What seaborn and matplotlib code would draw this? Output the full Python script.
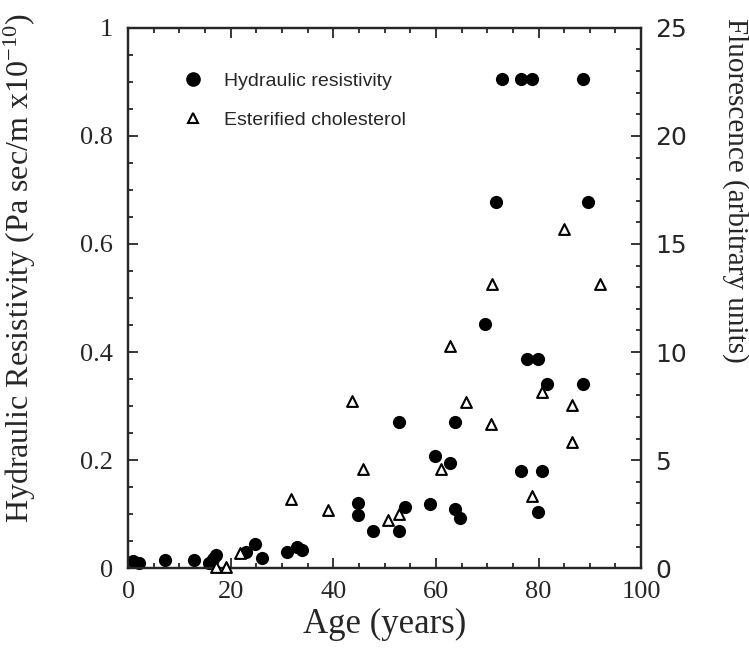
import matplotlib
matplotlib.use("Agg")
import matplotlib.pyplot as plt
from matplotlib.lines import Line2D
from matplotlib.ticker import MultipleLocator
import pandas as pd
import seaborn as sns

# hydraulic resistivity (filled circles, left axis)
res_age = [1.0, 2.2, 7.1, 12.9, 15.8, 16.5, 17.1, 23.0, 24.8, 26.1, 30.9, 32.9, 33.9,
           44.9, 44.9, 47.8, 52.8, 52.8, 54.0, 58.9, 59.8, 62.8, 63.8, 63.8, 64.7,
           69.6, 71.7, 72.8, 76.5, 78.7, 88.6, 76.6, 77.8, 79.9, 79.9, 80.7, 81.6,
           88.6, 89.7]
res_val = [0.013, 0.009, 0.016, 0.016, 0.009, 0.017, 0.025, 0.030, 0.044, 0.018, 0.030,
           0.040, 0.033, 0.120, 0.099, 0.069, 0.271, 0.069, 0.114, 0.119, 0.207, 0.194,
           0.271, 0.109, 0.092, 0.452, 0.678, 0.905, 0.905, 0.905, 0.905, 0.180, 0.387,
           0.387, 0.104, 0.180, 0.341, 0.341, 0.678]

# esterified cholesterol (open triangles, right axis)
chol_age = [17.1, 19.0, 21.8, 31.8, 38.9, 43.7, 45.7, 50.7, 52.8, 60.9, 62.8, 65.8,
            70.8, 70.9, 78.7, 80.7, 84.9, 86.5, 86.5, 91.9]
chol_val = [0.06, 0.06, 0.68, 3.18, 2.69, 7.75, 4.57, 2.25, 2.53, 4.57, 10.28, 7.67,
            6.65, 13.13, 3.33, 8.15, 15.7, 7.55, 5.82, 13.13]

x_ticks = [0, 20, 40, 60, 80, 100]
left_ticks = [0, 0.2, 0.4, 0.6, 0.8, 1.0]
left_labels = ["0", "0.2", "0.4", "0.6", "0.8", "1"]
right_ticks = [0, 5, 10, 15, 20, 25]

df_res = pd.DataFrame({"age": res_age, "val": res_val})
df_chol = pd.DataFrame({"age": chol_age, "val": chol_val})

sns.set_style("ticks")
plt.rcParams["font.family"] = ["Liberation Serif", "DejaVu Serif"]
plt.rcParams["mathtext.fontset"] = "custom"
plt.rcParams["mathtext.rm"] = "Liberation Serif"
plt.rcParams["mathtext.it"] = "Liberation Serif:italic"

fig = plt.figure(figsize=(7.49, 6.63), dpi=100)
ax = fig.add_axes([0.171, 0.143, 0.685, 0.815])
ax2 = ax.twinx()

sns.scatterplot(data=df_res, x="age", y="val", ax=ax, color="black", marker="o",
                s=90, edgecolor="black", linewidth=0, clip_on=False, zorder=3)
sns.scatterplot(data=df_chol, x="age", y="val", ax=ax2, marker="^", s=60,
                facecolor="white", edgecolor="black", linewidth=1.5, clip_on=False,
                zorder=3)

ax.set_xlim(0, 100)
ax.set_ylim(0, 1)
ax2.set_ylim(0, 25)

ax.set_xticks(x_ticks)
ax.set_yticks(left_ticks)
ax.set_yticklabels(left_labels)
ax2.set_yticks(right_ticks)
ax.xaxis.set_minor_locator(MultipleLocator(5))
ax.yaxis.set_minor_locator(MultipleLocator(0.05))
ax2.yaxis.set_minor_locator(MultipleLocator(1))

ax.tick_params(axis="both", which="major", direction="in", length=7, width=1.3,
               labelsize=19)
ax.tick_params(axis="both", which="minor", direction="in", length=3.6, width=1.3)
ax.tick_params(axis="x", which="both", top=True, pad=9)
ax.tick_params(axis="y", which="major", pad=11)
ax2.tick_params(axis="y", which="major", direction="in", length=7, width=1.3,
                labelsize=18, pad=10)
ax2.tick_params(axis="y", which="minor", direction="in", length=3.6, width=1.3)
for lab in ax2.get_yticklabels():
    lab.set_fontfamily(["DejaVu Sans"])

for a in (ax, ax2):
    for sp in a.spines.values():
        sp.set_linewidth(1.6)
        sp.set_visible(True)

ax.set_xlabel("Age (years)", fontsize=25)
ax.set_ylabel(r"Hydraulic Resistivity (Pa sec/m x10$^{-10}$)", fontsize=23)
ax.yaxis.set_label_coords(-0.175, 0.555)
ax2.set_ylabel("Fluorescence (arbitrary units)", fontsize=21, rotation=270, va="center")
ax2.yaxis.set_label_coords(1.183, 0.70)

handles = [
    Line2D([], [], marker="o", color="black", linestyle="none", markersize=9.5),
    Line2D([], [], marker="^", markerfacecolor="white", markeredgecolor="black",
           markeredgewidth=1.5, linestyle="none", markersize=7.7),
]
ax.legend(handles, ["Hydraulic resistivity", "Esterified cholesterol"],
          loc="upper left", bbox_to_anchor=(0.07, 0.95), frameon=False,
          prop={"family": "Liberation Sans", "size": 14}, labelspacing=1.1,
          handletextpad=1.0, handlelength=1.2)

fig.savefig("out.png", dpi=100)
